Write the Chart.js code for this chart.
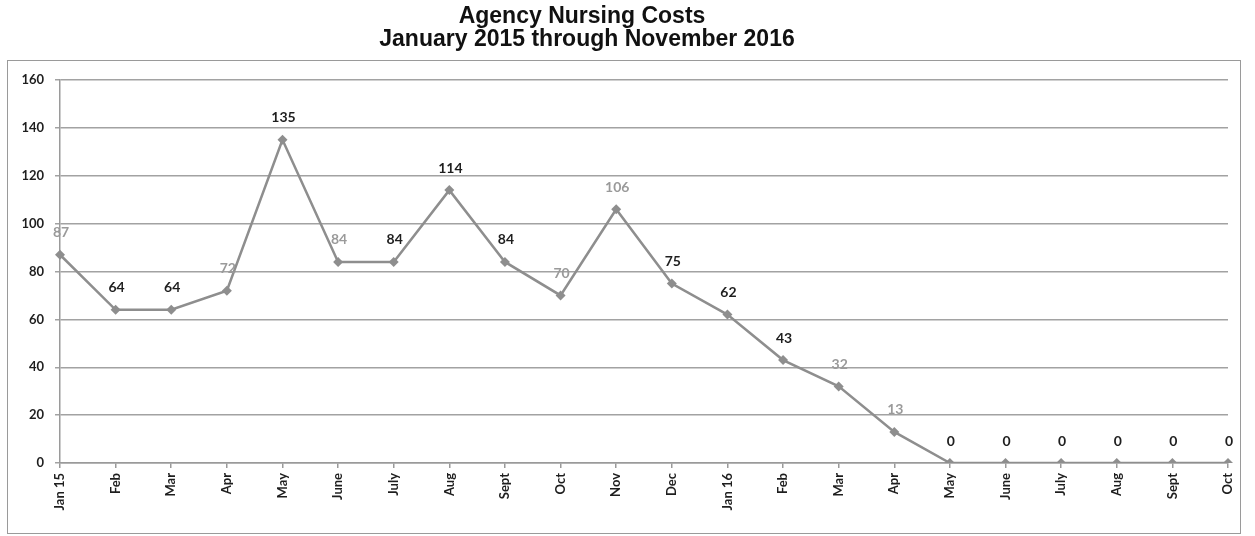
<!DOCTYPE html>
<html>
<head>
<meta charset="utf-8">
<script src="https://cdn.jsdelivr.net/npm/chart.js@4"></script>
<style>
  html, body { margin: 0; padding: 0; background: #fff; }
  #wrap { width: 1255px; height: 536px; position: relative; }
</style>
</head>
<body>
<div id="wrap"><canvas id="costChart" width="1255" height="536"></canvas></div>
<script>
// chart data
var months = ['Jan 15', 'Feb', 'Mar', 'Apr', 'May', 'June', 'July', 'Aug', 'Sept', 'Oct', 'Nov', 'Dec',
              'Jan 16', 'Feb', 'Mar', 'Apr', 'May', 'June', 'July', 'Aug', 'Sept', 'Oct'];
var costs = [87, 64, 64, 72, 135, 84, 84, 114, 84, 70, 106, 75, 62, 43, 32, 13, 0, 0, 0, 0, 0, 0];
// labels that came out faded in the scan
var fadedLabel = [true, false, false, true, false, true, false, false, false, true, true, false,
                  false, false, true, true, false, false, false, false, false, false];
var titleLines = ['Agency Nursing Costs', 'January 2015 through November 2016'];

var lineGray = '#8e8e8e';
var labelFont = 'bold 14px Lato, "Open Sans", sans-serif';

// outer frame + the two title lines (title sits a bit left of centre in the original)
var framePlugin = {
    id: 'frame',
    beforeDraw: function (chart) {
        var ctx = chart.ctx;
        ctx.save();
        ctx.strokeStyle = '#9a9a9a';
        ctx.lineWidth = 1;
        ctx.strokeRect(7.5, 60.5, 1233, 473);
        ctx.fillStyle = '#111';
        ctx.font = 'bold 23px "Liberation Sans", Arial, sans-serif';
        ctx.textAlign = 'center';
        ctx.textBaseline = 'middle';
        ctx.fillText(titleLines[0], 582, 17);
        ctx.fillText(titleLines[1], 587, 40);
        ctx.restore();
    }
};

// value labels above each point
var valueLabels = {
    id: 'valueLabels',
    afterDatasetsDraw: function (chart) {
        var ctx = chart.ctx;
        var meta = chart.getDatasetMeta(0);
        ctx.save();
        ctx.font = labelFont;
        ctx.textAlign = 'center';
        ctx.textBaseline = 'middle';
        meta.data.forEach(function (pt, i) {
            ctx.fillStyle = fadedLabel[i] ? '#9a9a9a' : '#1e1e1e';
            ctx.fillText(costs[i], pt.x + 1, pt.y - 22);
        });
        ctx.restore();
    }
};

var ctx = document.getElementById('costChart').getContext('2d');
var costChart = new Chart(ctx, {
    type: 'line',
    data: {
        labels: months,
        datasets: [{
            data: costs,
            borderColor: lineGray,
            backgroundColor: lineGray,
            borderWidth: 2.5,
            tension: 0,
            pointStyle: 'rectRot',
            pointRadius: 5,
            pointBackgroundColor: lineGray,
            pointBorderColor: lineGray,
            pointBorderWidth: 0
        }]
    },
    options: {
        responsive: false,
        animation: false,
        layout: {
            padding: { left: 7, right: 27, top: 80, bottom: 0 }
        },
        scales: {
            x: {
                offset: false,
                grid: {
                    drawOnChartArea: false,
                    drawTicks: true,
                    tickLength: 5,
                    color: '#9a9a9a',
                    lineWidth: 1.5
                },
                border: { color: '#9a9a9a', width: 1.5 },
                ticks: {
                    autoSkip: false,
                    maxRotation: 90,
                    minRotation: 90,
                    color: '#1e1e1e',
                    padding: 5,
                    font: { family: 'Lato, "Open Sans", sans-serif', size: 13, weight: 'bold' }
                },
                afterFit: function (scale) { scale.height = 73; }
            },
            y: {
                min: 0,
                max: 160,
                ticks: {
                    stepSize: 20,
                    color: '#1e1e1e',
                    padding: 11,
                    font: { family: 'Lato, "Open Sans", sans-serif', size: 13, weight: 'bold' }
                },
                grid: {
                    color: '#a2a2a2',
                    lineWidth: 1.5,
                    drawTicks: true,
                    tickLength: 5
                },
                border: { color: '#9a9a9a', width: 1.5 },
                afterFit: function (scale) { scale.width = 53; }
            }
        },
        plugins: {
            title: { display: false },
            legend: { display: false },
            tooltip: { enabled: false }
        }
    },
    plugins: [framePlugin, valueLabels]
});
</script>
</body>
</html>
